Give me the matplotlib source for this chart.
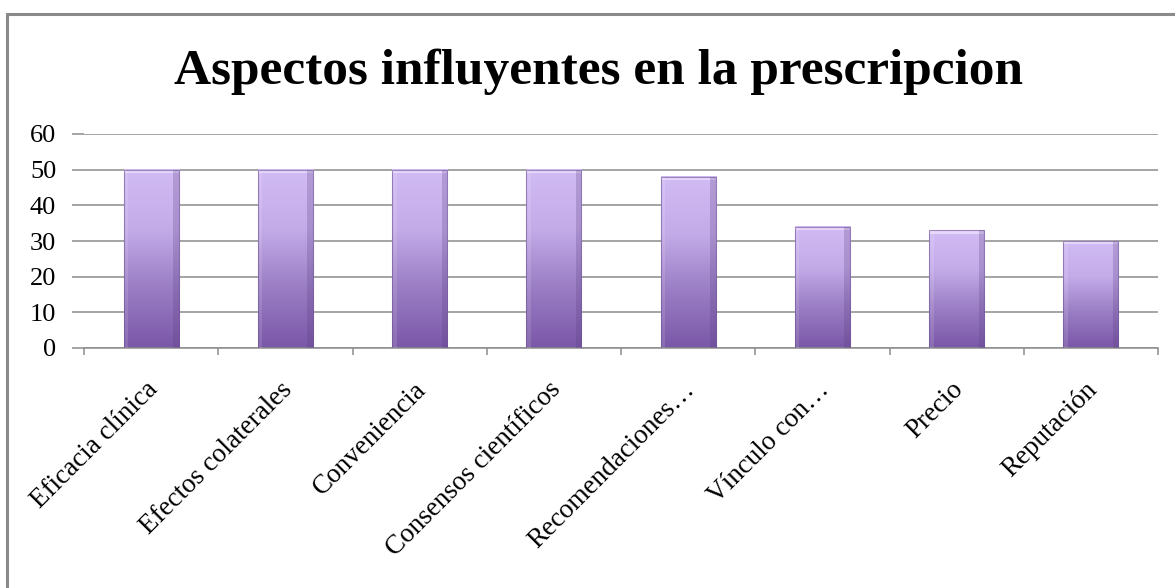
import numpy as np
import matplotlib
matplotlib.use("Agg")
import matplotlib.pyplot as plt
from matplotlib.colors import LinearSegmentedColormap
from matplotlib.patches import Rectangle
import matplotlib.transforms as mtransforms

categories = ["Eficacia clínica", "Efectos colaterales", "Conveniencia",
              "Consensos científicos", "Recomendaciones…", "Vínculo con…",
              "Precio", "Reputación"]
values = [50, 50, 50, 50, 48, 34, 33, 30]
y_ticks = [0, 10, 20, 30, 40, 50, 60]
title = "Aspectos influyentes en la prescripcion"

plt.rcParams['font.family'] = ['Liberation Serif', 'DejaVu Serif']

W, H = 1175, 588
fig = plt.figure(figsize=(W / 100, H / 100), dpi=100)
ax = fig.add_axes([84 / W, 1 - 348 / H, (1158 - 84) / W, (348 - 134) / H])

# frame around chart
fig.patches.append(Rectangle((7 / W, -0.05), 1.2, 1 - 14 / H + 0.05,
                             transform=fig.transFigure, fill=False,
                             edgecolor='#8a8a8a', linewidth=2.2, zorder=0))

n = len(categories)
x = np.arange(n)
width = 0.41
bars = ax.bar(x, values, width=width, color='none', edgecolor='none', zorder=2)

cmap = LinearSegmentedColormap.from_list(
    'purp', ['#7a57a8', '#9a7dc4', '#c3abe8', '#d2bcf4'])
grad = np.linspace(0, 1, 256).reshape(-1, 1)
for b in bars:
    x0, w, h = b.get_x(), b.get_width(), b.get_height()
    ax.imshow(grad, cmap=cmap, origin='lower', aspect='auto',
              extent=(x0, x0 + w, 0, h), zorder=2, interpolation='bicubic')
    ax.add_patch(Rectangle((x0, h - 0.9), w, 0.9, facecolor='#eee0ff',
                           edgecolor='none', alpha=0.75, zorder=3))
    ax.add_patch(Rectangle((x0, 0), w, h, facecolor='none',
                           edgecolor='#6b4f93', linewidth=0.8, alpha=0.6, zorder=4))
    ax.add_patch(Rectangle((x0 + w * 0.9, 0), w * 0.1, h, facecolor='#5a3f80',
                           edgecolor='none', alpha=0.25, zorder=3))
    ax.add_patch(Rectangle((x0, 0), w * 0.08, h, facecolor='#ffffff',
                           edgecolor='none', alpha=0.12, zorder=3))

ax.set_xlim(-0.5, n - 0.5)
ax.set_ylim(0, 60)
ax.set_yticks(y_ticks)
ax.set_yticklabels([str(v) for v in y_ticks], fontsize=19)
ax.yaxis.grid(True, color='#8c8c8c', linewidth=1.1, zorder=1)
ax.set_axisbelow(True)

ax.set_xticks(np.arange(-0.5, n, 1.0))
ax.set_xticklabels([])
ax.tick_params(axis='x', which='major', length=5, color='#8c8c8c', width=1.1)
ax.tick_params(axis='y', length=9, color='#8c8c8c', width=1.1, pad=11)

# category labels, rotated, anchored at their end below each bar
lab_tr = (mtransforms.blended_transform_factory(ax.transData, ax.transAxes)
          + mtransforms.ScaledTranslation(-6 / 100, -21 / 72, fig.dpi_scale_trans))
for xi, cat in zip(x, categories):
    ax.text(xi, 0, cat, transform=lab_tr, rotation=45, ha='right', va='top',
            rotation_mode='anchor', fontsize=19.5, clip_on=False)

for s in ['top', 'right', 'left']:
    ax.spines[s].set_visible(False)
ax.spines['bottom'].set_color('#8c8c8c')
ax.spines['bottom'].set_linewidth(1.1)

fig.text(599 / W, 1 - 72 / H, title, ha='center', va='center',
         fontsize=37, fontweight='bold')

fig.savefig('out.png', dpi=100, facecolor='white')
